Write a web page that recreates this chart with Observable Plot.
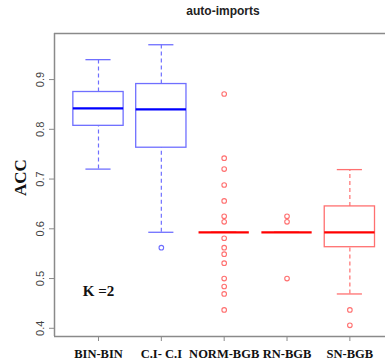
<!DOCTYPE html>
<html>
<head>
<meta charset="utf-8">
<script src="https://cdn.jsdelivr.net/npm/d3@7"></script>
<script src="https://cdn.jsdelivr.net/npm/@observablehq/plot@0.6"></script>
<style>
  html, body { margin: 0; padding: 0; background: #fff; overflow: hidden; }
  #title { height: 22px; width: 385px; box-sizing: border-box; padding-left: 61px; text-align: center;
           font: bold 12px "Liberation Sans", Arial, sans-serif; line-height: 22px; color: #222; }
</style>
</head>
<body>
<div id="title">auto-imports</div>
<div id="chart"></div>
<script>
const categories = ["BIN-BIN", "C.I- C.I", "NORM-BGB", "RN-BGB", "SN-BGB"];
const lowerWhisker = [0.720, 0.593, 0.593, 0.593, 0.469];
const q1Values     = [0.807, 0.763, 0.593, 0.593, 0.563];
const medianValues = [0.842, 0.840, 0.593, 0.593, 0.593];
const q3Values     = [0.875, 0.891, 0.593, 0.593, 0.645];
const upperWhisker = [0.940, 0.970, 0.593, 0.593, 0.719];
const outlierValues = [
  [],
  [0.562],
  [0.871, 0.742, 0.720, 0.688, 0.656, 0.625, 0.614, 0.581, 0.562, 0.549, 0.531, 0.500, 0.484, 0.469, 0.437],
  [0.625, 0.614, 0.500],
  [0.437, 0.406]
];
const family = ["blue", "blue", "red", "red", "red"];
const yTicks = [0.4, 0.5, 0.6, 0.7, 0.8, 0.9];
const annotation = "K =2";

const boxStroke = {blue: "#6f6fff", red: "#ff7070"};
const medStroke = {blue: "#0000ff", red: "#ff0000"};

const table = categories.map((c, k) => ({
  cat: c, i: k + 1, fam: family[k],
  lw: lowerWhisker[k], q1: q1Values[k], med: medianValues[k], q3: q3Values[k], uw: upperWhisker[k]
}));
const outs = outlierValues.flatMap((vals, k) => vals.map(v => ({i: k + 1, fam: family[k], v})));

const xDomain = [0.3, 5.567];
const yDomain = [0.3835, 0.9926];
const frameColor = "#8a8a8a";

const plot = Plot.plot({
  width: 385,
  height: 342,
  marginTop: 11,
  marginBottom: 28,
  marginLeft: 54,
  marginRight: 0,
  x: {domain: xDomain},
  y: {domain: yDomain},
  style: {background: "#fff"},
  marks: [
    Plot.ruleX(table, {x: "i", y1: "q3", y2: "uw", stroke: d => boxStroke[d.fam], strokeWidth: 1.2, strokeDasharray: "4,3"}),
    Plot.ruleX(table, {x: "i", y1: "lw", y2: "q1", stroke: d => boxStroke[d.fam], strokeWidth: 1.2, strokeDasharray: "4,3"}),
    Plot.ruleY(table, {y: "uw", x1: d => d.i - 0.2, x2: d => d.i + 0.2, stroke: d => boxStroke[d.fam], strokeWidth: 1.3}),
    Plot.ruleY(table, {y: "lw", x1: d => d.i - 0.2, x2: d => d.i + 0.2, stroke: d => boxStroke[d.fam], strokeWidth: 1.3}),
    Plot.rect(table, {x1: d => d.i - 0.4, x2: d => d.i + 0.4, y1: "q1", y2: "q3", fill: "none", stroke: d => boxStroke[d.fam], strokeWidth: 1.3}),
    Plot.ruleY(table, {y: "med", x1: d => d.i - 0.4, x2: d => d.i + 0.4, stroke: d => medStroke[d.fam], strokeWidth: 2.2}),
    Plot.dot(outs, {x: "i", y: "v", r: 2.3, fill: "none", stroke: d => boxStroke[d.fam], strokeWidth: 1.1}),
    Plot.text([annotation], {x: 1, y: 0.474, text: d => d, fontFamily: "'Liberation Serif', 'Times New Roman', serif", fontWeight: "bold", fontSize: 15, fill: "#111"}),
    Plot.axisY({ticks: yTicks, tickFormat: d => String(d), tickSize: 5, tickPadding: 6, tickRotate: -90, fontSize: 11, fill: "#444", stroke: frameColor, label: null, fontFamily: "'Liberation Sans', Arial, sans-serif"}),
    Plot.axisX({ticks: [1, 2, 3, 4, 5], tickFormat: t => categories[t - 1], tickSize: 5, tickPadding: 8, fontSize: 12.5, fontWeight: "bold", fill: "#111", stroke: frameColor, label: null, fontFamily: "'Liberation Serif', 'Times New Roman', serif"}),
    Plot.text(["ACC"], {frameAnchor: "left", dx: -34, dy: 11, rotate: -90, text: d => d, fontFamily: "'Liberation Serif', 'Times New Roman', serif", fontWeight: "bold", fontSize: 17, fill: "#111"}),
    Plot.ruleX([xDomain[0]], {stroke: frameColor, strokeWidth: 1.5}),
    Plot.ruleY([yDomain[0]], {stroke: frameColor, strokeWidth: 1.5}),
    Plot.ruleY([yDomain[1]], {stroke: frameColor, strokeWidth: 1.5})
  ]
});
document.getElementById("chart").appendChild(plot);
</script>
</body>
</html>
